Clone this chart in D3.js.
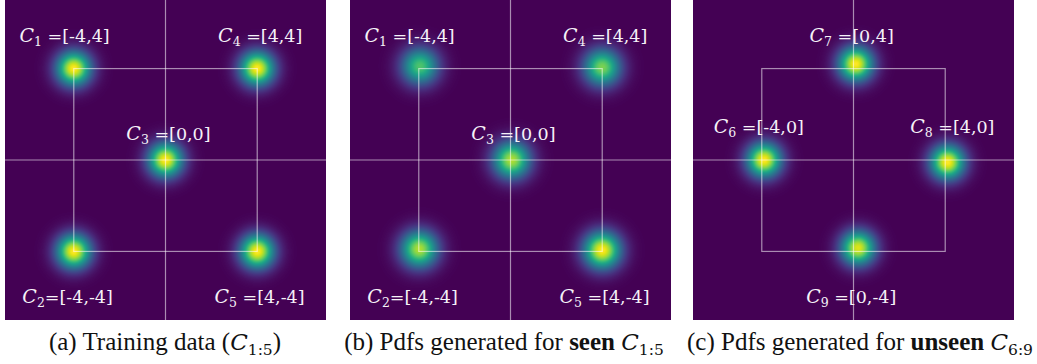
<!DOCTYPE html>
<html>
<head>
<meta charset="utf-8">
<script src="https://cdn.jsdelivr.net/npm/d3@7"></script>
<style>
  body { margin: 0; background: #fff; }
  svg { display: block; }
  .lbl { white-space: pre; }
</style>
</head>
<body>
<svg id="fig" width="1037" height="364"></svg>
<script>
// ---- data (in plane units) ----
const domain = [-7, 7];
const boxHalf = 4;

// (a) training data
const idsA = [1, 2, 3, 4, 5];
const meansA = [[-4, 4], [-4, -4], [0, 0], [4, 4], [4, -4]];
const peaksA = [1, 1, 1, 1, 1];
const sigmaA = 0.52;
const textsA = [" =[-4,4]", "=[-4,-4]", " =[0,0]", " =[4,4]", " =[4,-4]"];
const labelAtA = [[-4.4, 5.15], [-4.27, -6.24], [0.13, 0.87], [4.13, 5.15], [4.1, -6.24]];

// (b) generated for seen conditions
const idsB = idsA;
const meansB = [[-3.95, 4.1], [-3.98, -3.9], [0.05, 0], [4.0, 4.05], [4.0, -3.95]];
const peaksB = [0.72, 0.88, 0.88, 0.8, 1];
const sigmaB = 0.56;
const textsB = textsA;
const labelAtB = labelAtA;

// (c) generated for unseen conditions
const idsC = [6, 7, 8, 9];
const meansC = [[-3.9, 0], [0.1, 4.2], [4.1, -0.1], [0.2, -3.85]];
const peaksC = [1, 1, 1, 0.95];
const sigmaC = 0.52;
const textsC = [" =[-4,0]", " =[0,4]", " =[4,0]", " =[0,-4]"];
const labelAtC = [[-4.13, 1.18], [-0.08, 5.17], [4.31, 1.18], [-0.1, -6.24]];

const captionPre = ["(a) Training data (", "(b) Pdfs generated for ", "(c) Pdfs generated for "];
const captionBold = ["", "seen", "unseen"];
const captionSub = ["1:5", "1:5", "6:9"];
const captionPost = [")", "", ""];

// ---- layout ----
const panelLeft = [5, 350, 693];
const captionCentre = [165, 504, 860];
const panelSize = 321;
const panelH = 320;

const svg = d3.select("#fig");
const color = d3.scaleSequential(d3.interpolateViridis).domain([0, 1]);

const panels = [
  { ids: idsA, means: meansA, peaks: peaksA, sigma: sigmaA, texts: textsA, labelAt: labelAtA },
  { ids: idsB, means: meansB, peaks: peaksB, sigma: sigmaB, texts: textsB, labelAt: labelAtB },
  { ids: idsC, means: meansC, peaks: peaksC, sigma: sigmaC, texts: textsC, labelAt: labelAtC },
];

panels.forEach((p, i) => {
  const x = d3.scaleLinear().domain(domain).range([0, panelSize]);
  const y = d3.scaleLinear().domain(domain).range([panelH, 0]);
  const g = svg.append("g").attr("transform", `translate(${panelLeft[i]},0)`);

  // density image
  const canvas = document.createElement("canvas");
  canvas.width = panelSize;
  canvas.height = panelH;
  const ctx = canvas.getContext("2d");
  const img = ctx.createImageData(panelSize, panelH);
  for (let r = 0; r < panelH; r++) {
    const vy = y.invert(r + 0.5);
    for (let c = 0; c < panelSize; c++) {
      const vx = x.invert(c + 0.5);
      let v = 0;
      p.means.forEach((m, k) => {
        const d2 = (vx - m[0]) ** 2 + (vy - m[1]) ** 2;
        v += p.peaks[k] * Math.exp(-d2 / (2 * p.sigma * p.sigma));
      });
      const col = d3.rgb(color(Math.min(1, v)));
      const o = (r * panelSize + c) * 4;
      img.data[o] = col.r; img.data[o + 1] = col.g; img.data[o + 2] = col.b; img.data[o + 3] = 255;
    }
  }
  ctx.putImageData(img, 0, 0);
  g.append("image")
    .attr("width", panelSize)
    .attr("height", panelH)
    .attr("href", canvas.toDataURL());

  // guide lines
  const lineStyle = (s) => s.attr("stroke", "#fff").attr("stroke-opacity", 0.55).attr("stroke-width", 1.2).attr("fill", "none");
  g.append("line").attr("x1", x(0)).attr("x2", x(0)).attr("y1", 0).attr("y2", panelH).call(lineStyle);
  g.append("line").attr("x1", 0).attr("x2", panelSize).attr("y1", y(0)).attr("y2", y(0)).call(lineStyle);
  g.append("rect")
    .attr("x", x(-boxHalf)).attr("y", y(boxHalf))
    .attr("width", x(boxHalf) - x(-boxHalf)).attr("height", y(-boxHalf) - y(boxHalf))
    .call(lineStyle);

  // labels
  p.ids.forEach((id, k) => {
    const t = g.append("text")
      .attr("class", "lbl")
      .attr("x", x(p.labelAt[k][0]))
      .attr("y", y(p.labelAt[k][1]))
      .attr("text-anchor", "middle")
      .attr("fill", "#f6f2f8")
      .attr("font-family", "DejaVu Serif")
      .attr("font-size", 17.5);
    t.append("tspan").attr("font-style", "italic").attr("font-size", 19).text("C");
    t.append("tspan").attr("font-size", 12.5).attr("dy", 4).text(id);
    t.append("tspan").attr("dy", -4).text(p.texts[k]);
  });

  // caption
  const cap = svg.append("text")
    .attr("class", "lbl")
    .attr("x", captionCentre[i])
    .attr("y", 350)
    .attr("text-anchor", "middle")
    .attr("fill", "#111")
    .attr("font-family", "Liberation Serif, Times New Roman, serif")
    .attr("font-size", 25);
  cap.append("tspan").text(captionPre[i]);
  if (captionBold[i]) {
    cap.append("tspan").attr("font-weight", "bold").text(captionBold[i]);
    cap.append("tspan").text(" ");
  }
  cap.append("tspan").attr("font-style", "italic").attr("font-family", "DejaVu Serif").attr("font-size", 23).text("C");
  cap.append("tspan").attr("font-family", "DejaVu Serif").attr("font-size", 15.5).attr("dy", 5).text(captionSub[i]);
  if (captionPost[i]) cap.append("tspan").attr("dy", -5).text(captionPost[i]);
});
</script>
</body>
</html>
